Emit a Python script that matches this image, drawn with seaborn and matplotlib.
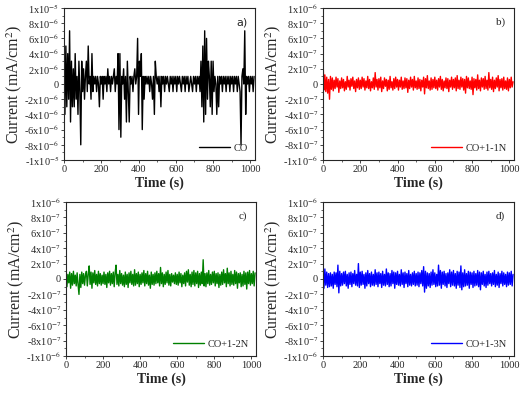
import numpy as np
import pandas as pd
import matplotlib
matplotlib.use("Agg")
import matplotlib.pyplot as plt
import seaborn as sns

sns.set_style("ticks")
plt.rcParams['font.family'] = ['Liberation Serif', 'DejaVu Serif']
plt.rcParams['mathtext.fontset'] = 'stix'

# ---- data ----
# panel a: current in units of 1e-6 mA/cm2, sampled every 5 s
curr_a = [3, -4, 5, -3, 4, -2, 7, -5, 3, -3,
          2, -3, 4, -2, 1, -4, 3, -1, -8, 3,
          -1, 2, -2, 1, 3, -1, 5, 0, 1, -2,
          4, -1, 1, 0, 1, -1, 1, 0, -3, 1,
          0, 1, -2, 1, 0, 1, -1, 2, 0, 1,
          -1, 1, 0, 1, 2, -1, 1, 0, 4, -6,
          4, -7, 1, 0, 2, -2, 1, -5, 3, -1,
          -5, 1, 0, 1, -1, 1, 2, 0, 1, 6,
          -4, 3, 1, 4, -6, 1, -2, 1, 0, 1,
          0, 1, -1, 1, 0, -2, 1, -4, 3, 1,
          0, 1, -1, 1, -3, 1, 0, 1, -1, 1,
          0, 1, 0, -1, 1, 0, 1, -1, 1, 0,
          1, -1, 1, 0, 1, 0, -1, 1, 0, 1,
          -1, 1, 0, 1, -1, 0, 1, 0, -1, 1,
          0, 1, -1, 1, 0, 1, -1, 3, -3, 5,
          -5, 7, -4, 6, -2, 3, 1, -3, 3, -4,
          3, -1, 1, 0, -4, 1, -3, 1, 0, 1,
          -1, 1, 0, 1, -1, 1, 0, 1, -1, 1,
          0, 1, -1, 1, 0, 1, -1, 1, 0, -1,
          -8, 1, 2, 0, 7, -4, 1, 0, 1, -1,
          1, 0, 1, -1, 1]

# panels b-d: current in units of 1e-8 mA/cm2, sampled every 5 s
curr_b = [33, -8, 12, -10, 9, -12, 6, -20, 10, -7, 8, -9, 5, -6, 9, -4, 7, -11, 4, -6,
          8, -5, 6, -9, 3, -7, 10, -4, 5, -8, 7, -3, 9, -6, 4, -10, 6, -5, 8, -7,
          5, -6, 9, -4, 7, -8, 4, -5, 10, -6, 6, -9, 3, -5, 8, -7, 15, -4, 6, -8,
          7, -5, 9, -10, 4, -6, 8, -3, 6, -9, 5, -7, 10, -5, 3, -8, 7, -6, 9, -4,
          6, -8, 5, -4, 9, -7, 4, -6, 8, -5, 7, -11, 5, -6, 9, -4, 6, -8, 10, -5,
          4, -7, 8, -6, 6, -9, 5, -4, 9, -13, 7, -5, 11, -6, 4, -8, 8, -7, 6, -5,
          9, -6, 5, -8, 7, -4, 10, -7, 6, -9, 4, -5, 8, -6, 7, -10, 5, -4, 9, -7,
          6, -5, 8, -9, 11, -6, 5, -7, 9, -4, 7, -8, 6, -12, 10, -5, 8, -6, 4, -7,
          9, -14, 7, -5, 6, -8, 12, -6, 5, -9, 8, -4, 7, -7, 10, -6, 5, -8, 15, -5,
          6, -7, 9, -10, 5, -6, 8, -4, 11, -9, 6, -5, 7, -8, 9, -6, 4, -7, 8, -9,
          6, -5, 9, -4, 3]
curr_c = [8, -10, 6, -5, 9, -12, 7, -8, 10, -6, 5, -9, 8, -7, -20, 6, -11, 9, -6, 7,
          -8, 5, 10, -9, 6, 17, -7, 9, -12, 8, -5, 11, -7, 6, -9, 10, -6, 7, -8, 5,
          -6, 9, -7, 6, -11, 8, -5, 10, -8, 7, -6, 9, -10, 8, 18, -7, 6, -9, 11, -6,
          7, -8, 5, -10, 9, -7, 6, -11, 8, -5, 10, -7, 6, -9, 12, -8, 7, -6, 9, -10,
          6, -7, 8, -5, 11, -9, 7, -6, 10, -8, 5, -12, 9, -7, 6, -8, 8, -6, 10, -5,
          7, -9, 15, -6, 8, -10, 6, -7, 9, -5, 11, -8, 6, -9, 7, -4, 5, -6, 8, -7,
          6, -8, 9, -5, 7, -10, 5, -6, 8, -9, 10, -4, 12, -8, 6, -10, 9, -7, 11, -9,
          8, -6, 10, -11, 7, -8, 9, -6, 25, -9, 7, -10, 8, -6, 11, -8, 6, -7, 9, -5,
          10, -9, 7, -6, 8, -11, 6, -8, 9, -7, 12, -5, 7, -10, 14, -6, 8, -9, 10, -7,
          6, -8, 11, -6, 9, -12, 7, -5, 8, -10, 6, -9, 10, -7, 8, -13, 9, -6, 11, -8,
          7, -6, 10, -9, 8]
curr_d = [10, -12, 13, -8, 9, -11, 7, -10, 8, -9, 6, -12, 9, -7, 8, -10, 18, -18, 10, -9,
          7, -8, 9, -6, 10, -9, 6, -12, 8, -7, 9, -10, 7, -6, 11, -8, 6, -9, 20, -11,
          9, -8, 10, -7, 6, -12, 8, -9, 11, -6, 7, -10, 9, -8, 6, -9, 12, -7, 8, -10,
          9, -6, 7, -11, 10, -8, 6, -9, 13, -7, 8, -10, 7, -9, 11, -6, 9, -12, 8, -7,
          10, -8, 6, -9, 12, -7, 8, -11, 9, -6, 7, -10, 11, -8, 6, -9, 8, -7, 10, -9,
          7, -8, 9, -10, 8, -6, 11, -9, 16, -17, 10, -12, 8, -9, 7, -11, 9, -8, 12, -7,
          8, -10, 6, -9, 18, -8, 11, -12, 9, -7, 10, -9, 7, -11, 8, -6, 12, -10, 9, -8,
          11, -9, 7, -12, 10, -8, 9, -11, 17, -14, 8, -10, 12, -9, 7, -8, 10, -12, 9, -7,
          8, -11, 10, -9, 7, -8, 11, -10, 9, -14, 8, -7, 10, -9, 6, -11, 9, -8, 10, -6,
          7, -9, 8, -7, 11, -10, 6, -8, 9, -11, 7, -6, 10, -9, 8, -7, 6, -10, 9, -8,
          8, -7, 10, -9, 6]

time_step = 5
labels = ["CO", "CO+1-1N", "CO+1-2N", "CO+1-3N"]
panel_tags = ["a)", "b)", "c)", "d)"]
colors = ["black", "#ff0000", "#008000", "#0000ff"]
scales = [1e-6, 1e-8, 1e-8, 1e-8]
series = [curr_a, curr_b, curr_c, curr_d]

yticks_a = ["-1x10$^{-5}$", "-8x10$^{-6}$", "-6x10$^{-6}$", "-4x10$^{-6}$", "-2x10$^{-6}$", "0",
            "2x10$^{-6}$", "4x10$^{-6}$", "6x10$^{-6}$", "8x10$^{-6}$", "1x10$^{-5}$"]
yticks_b = ["-1x10$^{-6}$", "-8x10$^{-7}$", "-6x10$^{-7}$", "-4x10$^{-7}$", "-2x10$^{-7}$", "0",
            "2x10$^{-7}$", "4x10$^{-7}$", "6x10$^{-7}$", "8x10$^{-7}$", "1x10$^{-6}$"]
xticks = [0, 200, 400, 600, 800, 1000]

fig = plt.figure(figsize=(5.24, 3.93), dpi=100)
boxes = [(64, 8, 255, 160), (323, 8, 514, 160), (66, 202, 256, 356), (323, 202, 514, 356)]
W, H = 524, 393

for k in range(4):
    l, t, r, b = boxes[k]
    ax = fig.add_axes([l / W, 1 - b / H, (r - l) / W, (b - t) / H])
    vals = np.array(series[k], dtype=float) * scales[k]
    tt = np.arange(len(vals)) * time_step
    df = pd.DataFrame({"t": tt, "i": vals, "s": labels[k]})
    sns.lineplot(data=df, x="t", y="i", ax=ax, color=colors[k], lw=1.0,
                 label=labels[k], estimator=None)
    ymax = 1e-5 if k == 0 else 1e-6
    ax.set_xlim(0, 1025)
    ax.set_ylim(-ymax, ymax)
    yt = np.linspace(-ymax, ymax, 11)
    ax.set_yticks(yt)
    ax.set_yticklabels(yticks_a if k == 0 else yticks_b)
    ax.set_xticks(xticks)
    ax.set_xticklabels([str(v) for v in xticks])
    ax.set_yticks(np.linspace(-ymax, ymax, 21), minor=True)
    ax.set_xticks(np.arange(0, 1025, 100), minor=True)
    ax.tick_params(axis="both", which="major", labelsize=7.5, length=2.5, width=0.6,
                   direction="out", pad=1)
    ax.tick_params(axis="both", which="minor", length=1.5, width=0.5, direction="out")
    for sp in ax.spines.values():
        sp.set_visible(True)
        sp.set_linewidth(0.8)
    ax.set_xlabel("Time (s)", fontsize=10, fontweight="bold", labelpad=2)
    ax.set_ylabel("Current (mA/cm$^2$)", fontsize=11.5, labelpad=0)
    ax.text(0.93, 0.94, panel_tags[k], transform=ax.transAxes, fontsize=8,
            ha="center", va="top", family="DejaVu Sans" if k == 0 else None)
    leg = ax.legend(loc="lower right", frameon=False, fontsize=7.5,
                    handlelength=3.0, handletextpad=0.3, borderaxespad=0.3)

fig.savefig("out.png", dpi=100)
